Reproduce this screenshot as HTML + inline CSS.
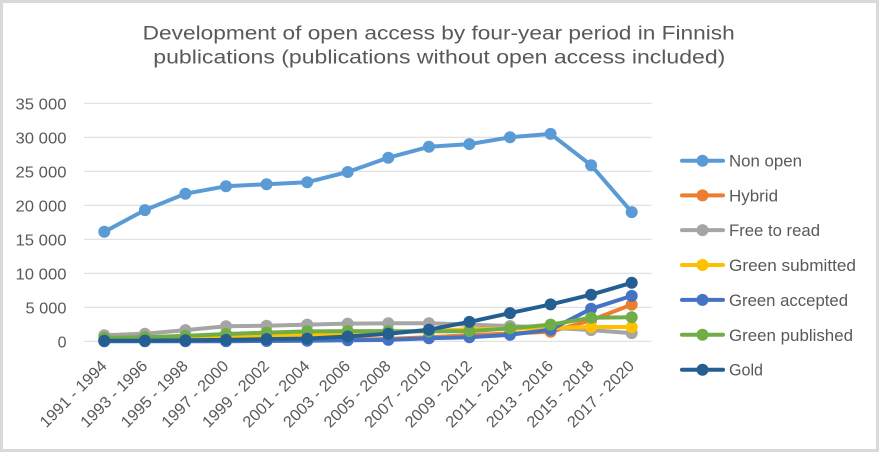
<!DOCTYPE html>
<html>
<head>
<meta charset="utf-8">
<style>
  html,body{margin:0;padding:0;background:#fff;}
  svg{display:block;}
  text{font-family:"Liberation Sans",Arial,sans-serif;fill:#595959;}
</style>
</head>
<body>
<svg width="879" height="452" viewBox="0 0 879 452" xmlns="http://www.w3.org/2000/svg">
  <defs>
    <marker id="m1" markerUnits="userSpaceOnUse" markerWidth="14" markerHeight="14" refX="7" refY="7"><circle cx="7" cy="7" r="6" fill="#5B9BD5"/></marker>
    <marker id="m2" markerUnits="userSpaceOnUse" markerWidth="14" markerHeight="14" refX="7" refY="7"><circle cx="7" cy="7" r="6" fill="#ED7D31"/></marker>
    <marker id="m3" markerUnits="userSpaceOnUse" markerWidth="14" markerHeight="14" refX="7" refY="7"><circle cx="7" cy="7" r="6" fill="#A5A5A5"/></marker>
    <marker id="m4" markerUnits="userSpaceOnUse" markerWidth="14" markerHeight="14" refX="7" refY="7"><circle cx="7" cy="7" r="6" fill="#FFC000"/></marker>
    <marker id="m5" markerUnits="userSpaceOnUse" markerWidth="14" markerHeight="14" refX="7" refY="7"><circle cx="7" cy="7" r="6" fill="#4472C4"/></marker>
    <marker id="m6" markerUnits="userSpaceOnUse" markerWidth="14" markerHeight="14" refX="7" refY="7"><circle cx="7" cy="7" r="6" fill="#70AD47"/></marker>
    <marker id="m7" markerUnits="userSpaceOnUse" markerWidth="14" markerHeight="14" refX="7" refY="7"><circle cx="7" cy="7" r="6" fill="#255E91"/></marker>
  </defs>

  <!-- border -->
  <rect x="1.5" y="1.5" width="876" height="449" fill="#fff" stroke="#d9d9d9" stroke-width="3"/>

  <!-- title -->
  <text x="142.7" y="39.5" font-size="19" textLength="592" lengthAdjust="spacingAndGlyphs">Development of open access by four-year period in Finnish</text>
  <text x="153.3" y="63.5" font-size="19" textLength="572" lengthAdjust="spacingAndGlyphs">publications (publications without open access included)</text>

  <!-- gridlines -->
  <g stroke="#d9d9d9" stroke-width="1">
    <line x1="84" y1="103.3" x2="651.5" y2="103.3"/>
    <line x1="84" y1="137.3" x2="651.5" y2="137.3"/>
    <line x1="84" y1="171.3" x2="651.5" y2="171.3"/>
    <line x1="84" y1="205.3" x2="651.5" y2="205.3"/>
    <line x1="84" y1="239.3" x2="651.5" y2="239.3"/>
    <line x1="84" y1="273.3" x2="651.5" y2="273.3"/>
    <line x1="84" y1="307.3" x2="651.5" y2="307.3"/>
    <line x1="84" y1="341.3" x2="651.5" y2="341.3"/>
  </g>

  <!-- y labels -->
  <g font-size="16" text-anchor="end">
    <text x="66.5" y="109.3" textLength="51" lengthAdjust="spacingAndGlyphs">35 000</text>
    <text x="66.5" y="143.3" textLength="51" lengthAdjust="spacingAndGlyphs">30 000</text>
    <text x="66.5" y="177.3" textLength="51" lengthAdjust="spacingAndGlyphs">25 000</text>
    <text x="66.5" y="211.3" textLength="51" lengthAdjust="spacingAndGlyphs">20 000</text>
    <text x="66.5" y="245.3" textLength="51" lengthAdjust="spacingAndGlyphs">15 000</text>
    <text x="66.5" y="279.3" textLength="51" lengthAdjust="spacingAndGlyphs">10 000</text>
    <text x="66.5" y="313.3" textLength="41" lengthAdjust="spacingAndGlyphs">5 000</text>
    <text x="66.5" y="347.3">0</text>
  </g>

  <!-- x labels -->
  <g font-size="16" text-anchor="end">
    <text transform="translate(107.8,367) rotate(-45)" textLength="87" lengthAdjust="spacingAndGlyphs">1991 - 1994</text>
    <text transform="translate(148.4,367) rotate(-45)" textLength="87" lengthAdjust="spacingAndGlyphs">1993 - 1996</text>
    <text transform="translate(188.9,367) rotate(-45)" textLength="87" lengthAdjust="spacingAndGlyphs">1995 - 1998</text>
    <text transform="translate(229.5,367) rotate(-45)" textLength="87" lengthAdjust="spacingAndGlyphs">1997 - 2000</text>
    <text transform="translate(270.1,367) rotate(-45)" textLength="87" lengthAdjust="spacingAndGlyphs">1999 - 2002</text>
    <text transform="translate(310.7,367) rotate(-45)" textLength="87" lengthAdjust="spacingAndGlyphs">2001 - 2004</text>
    <text transform="translate(351.2,367) rotate(-45)" textLength="87" lengthAdjust="spacingAndGlyphs">2003 - 2006</text>
    <text transform="translate(391.8,367) rotate(-45)" textLength="87" lengthAdjust="spacingAndGlyphs">2005 - 2008</text>
    <text transform="translate(432.4,367) rotate(-45)" textLength="87" lengthAdjust="spacingAndGlyphs">2007 - 2010</text>
    <text transform="translate(472.9,367) rotate(-45)" textLength="87" lengthAdjust="spacingAndGlyphs">2009 - 2012</text>
    <text transform="translate(513.5,367) rotate(-45)" textLength="87" lengthAdjust="spacingAndGlyphs">2011 - 2014</text>
    <text transform="translate(554.1,367) rotate(-45)" textLength="87" lengthAdjust="spacingAndGlyphs">2013 - 2016</text>
    <text transform="translate(594.6,367) rotate(-45)" textLength="87" lengthAdjust="spacingAndGlyphs">2015 - 2018</text>
    <text transform="translate(635.2,367) rotate(-45)" textLength="87" lengthAdjust="spacingAndGlyphs">2017 - 2020</text>
  </g>

  <!-- series -->
  <g fill="none" stroke-width="4" stroke-linejoin="round" stroke-linecap="round">
    <polyline stroke="#5B9BD5" marker-start="url(#m1)" marker-mid="url(#m1)" marker-end="url(#m1)"
      points="104.3,231.8 144.9,210.1 185.4,193.7 226.0,186.3 266.6,184.2 307.2,182.2 347.7,172.0 388.3,157.7 428.9,146.8 469.4,144.1 510.0,137.3 550.6,133.9 591.1,165.2 631.7,212.1"/>
    <polyline stroke="#ED7D31" marker-start="url(#m2)" marker-mid="url(#m2)" marker-end="url(#m2)"
      points="104.3,341.1 144.9,341.0 185.4,340.9 226.0,340.7 266.6,340.5 307.2,340.2 347.7,339.9 388.3,338.9 428.9,337.2 469.4,335.2 510.0,333.5 550.6,331.8 591.1,320.2 631.7,304.6"/>
    <polyline stroke="#A5A5A5" marker-start="url(#m3)" marker-mid="url(#m3)" marker-end="url(#m3)"
      points="104.3,335.2 144.9,333.8 185.4,330.1 226.0,326.3 266.6,325.7 307.2,324.6 347.7,323.6 388.3,323.3 428.9,323.3 469.4,324.6 510.0,326.0 550.6,327.7 591.1,330.1 631.7,333.1"/>
    <polyline stroke="#FFC000" marker-start="url(#m4)" marker-mid="url(#m4)" marker-end="url(#m4)"
      points="104.3,339.3 144.9,338.9 185.4,338.2 226.0,337.2 266.6,336.2 307.2,335.2 347.7,333.8 388.3,332.5 428.9,331.1 469.4,329.1 510.0,328.7 550.6,328.0 591.1,327.0 631.7,327.0"/>
    <polyline stroke="#4472C4" marker-start="url(#m5)" marker-mid="url(#m5)" marker-end="url(#m5)"
      points="104.3,341.3 144.9,341.3 185.4,341.3 226.0,341.2 266.6,341.0 307.2,340.8 347.7,340.3 388.3,339.9 428.9,338.3 469.4,337.3 510.0,334.8 550.6,329.7 591.1,308.8 631.7,295.9"/>
    <polyline stroke="#70AD47" marker-start="url(#m6)" marker-mid="url(#m6)" marker-end="url(#m6)"
      points="104.3,337.9 144.9,337.2 185.4,335.9 226.0,334.0 266.6,332.6 307.2,331.4 347.7,331.1 388.3,331.1 428.9,331.4 469.4,331.1 510.0,328.4 550.6,324.6 591.1,317.7 631.7,317.2"/>
    <polyline stroke="#255E91" marker-start="url(#m7)" marker-mid="url(#m7)" marker-end="url(#m7)"
      points="104.3,340.8 144.9,340.6 185.4,340.3 226.0,339.9 266.6,339.1 307.2,338.6 347.7,336.5 388.3,333.8 428.9,329.7 469.4,321.9 510.0,313.1 550.6,304.4 591.1,294.7 631.7,282.8"/>
  </g>

  <!-- legend -->
  <g stroke-width="4" stroke-linecap="round">
    <line x1="682" y1="160.7" x2="723" y2="160.7" stroke="#5B9BD5"/>
    <line x1="682" y1="195.4" x2="723" y2="195.4" stroke="#ED7D31"/>
    <line x1="682" y1="230.1" x2="723" y2="230.1" stroke="#A5A5A5"/>
    <line x1="682" y1="265.0" x2="723" y2="265.0" stroke="#FFC000"/>
    <line x1="682" y1="299.9" x2="723" y2="299.9" stroke="#4472C4"/>
    <line x1="682" y1="334.8" x2="723" y2="334.8" stroke="#70AD47"/>
    <line x1="682" y1="369.7" x2="723" y2="369.7" stroke="#255E91"/>
  </g>
  <g>
    <circle cx="702.5" cy="160.7" r="6" fill="#5B9BD5"/>
    <circle cx="702.5" cy="195.4" r="6" fill="#ED7D31"/>
    <circle cx="702.5" cy="230.1" r="6" fill="#A5A5A5"/>
    <circle cx="702.5" cy="265.0" r="6" fill="#FFC000"/>
    <circle cx="702.5" cy="299.9" r="6" fill="#4472C4"/>
    <circle cx="702.5" cy="334.8" r="6" fill="#70AD47"/>
    <circle cx="702.5" cy="369.7" r="6" fill="#255E91"/>
  </g>
  <g font-size="17">
    <text x="729" y="166.7" textLength="73" lengthAdjust="spacingAndGlyphs">Non open</text>
    <text x="729" y="201.4" textLength="49" lengthAdjust="spacingAndGlyphs">Hybrid</text>
    <text x="729" y="236.1" textLength="91" lengthAdjust="spacingAndGlyphs">Free to read</text>
    <text x="729" y="271.0" textLength="127" lengthAdjust="spacingAndGlyphs">Green submitted</text>
    <text x="729" y="305.9" textLength="119" lengthAdjust="spacingAndGlyphs">Green accepted</text>
    <text x="729" y="340.8" textLength="124" lengthAdjust="spacingAndGlyphs">Green published</text>
    <text x="729" y="375.7" textLength="34" lengthAdjust="spacingAndGlyphs">Gold</text>
  </g>
</svg>
</body>
</html>
